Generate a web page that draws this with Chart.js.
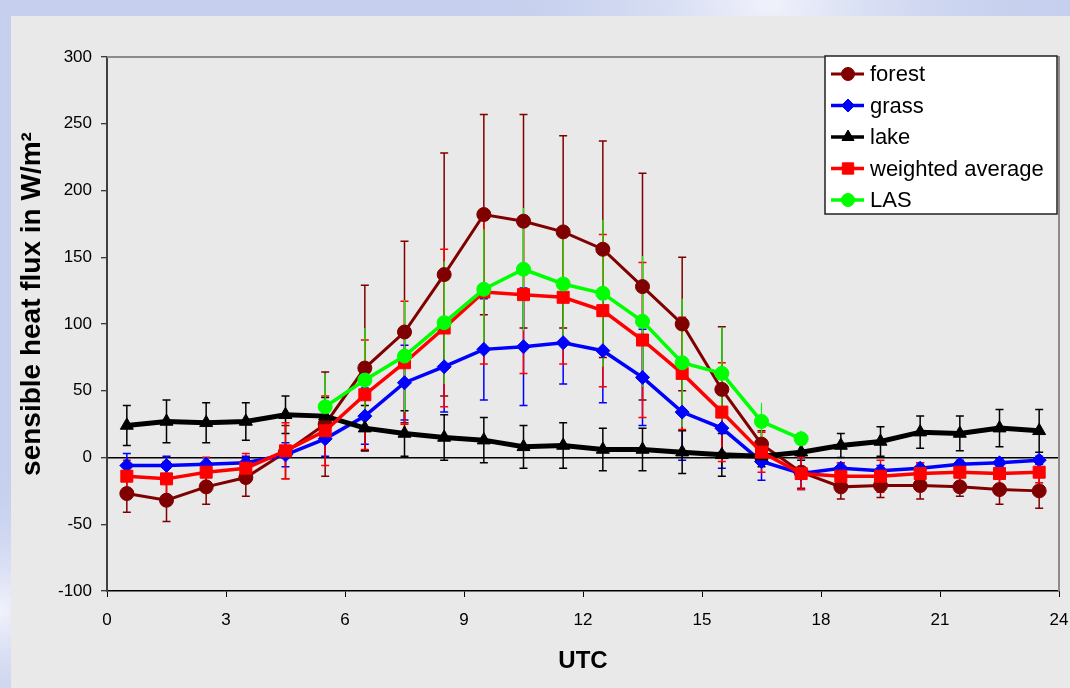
<!DOCTYPE html>
<html>
<head>
<meta charset="utf-8">
<script src="https://cdn.jsdelivr.net/npm/chart.js@4.4.1/dist/chart.umd.min.js"></script>
<style>
  html, body { margin: 0; padding: 0; background: #c6d0ee; }
  canvas { display: block; }
</style>
</head>
<body>
<canvas id="fluxChart" width="1070" height="688"></canvas>
<script>
// half-hourly means of sensible heat flux (W/m²) over the day
const hours = [0.5, 1.5, 2.5, 3.5, 4.5, 5.5, 6.5, 7.5, 8.5, 9.5, 10.5, 11.5,
               12.5, 13.5, 14.5, 15.5, 16.5, 17.5, 18.5, 19.5, 20.5, 21.5, 22.5, 23.5];

const forest = [-27, -32, -22, -15, 4, 25, 67, 94, 137, 182, 177, 169,
                156, 128, 100, 51, 10, -11, -22, -21, -21, -22, -24, -25];
const forestErr = [14, 16, 13, 14, 20, 39, 62, 68, 91, 75, 80, 72,
                   81, 85, 50, 47, 10, 12, 9, 9, 10, 7, 11, 13];

const grass = [-6, -6, -5, -4, 2, 14, 31, 56, 68, 81, 83, 86,
               80, 60, 34, 22, -3, -12, -8, -10, -8, -5, -4, -2];
const grassErr = [9, 7, 5, 5, 9, 13, 21, 28, 34, 38, 44, 31,
                  39, 36, 36, 30, 14, 12, 4, 4, 4, 3, 3, 3];

const lake = [24, 27, 26, 27, 32, 31, 22, 18, 15, 13, 8, 9,
              6, 6, 4, 2, 1, 4, 9, 12, 19, 18, 22, 20];
const lakeErr = [15, 16, 15, 14, 14, 14, 17, 17, 17, 17, 16, 17,
                 16, 16, 16, 16, 8, 6, 9, 11, 12, 13, 14, 16];

const weighted = [-14, -16, -11, -8, 5, 20, 47, 71, 97, 124, 122, 120,
                  110, 88, 63, 34, 4, -12, -14, -14, -12, -11, -12, -11];
const weightedErr = [12, 13, 11, 11, 21, 26, 41, 46, 59, 54, 59, 50,
                     57, 58, 42, 37, 15, 12, 10, 12, 8, 8, 8, 8];

const las = [null, null, null, null, null, 38, 58, 76, 101, 126, 141, 130,
             123, 102, 71, 63, 27, 14, null, null, null, null, null, null];
const lasErr = [null, null, null, null, null, 25, 39, 42, 46, 45, 46, 39,
                55, 49, 48, 35, 14, 6, null, null, null, null, null, null];

const xTicks = [0, 3, 6, 9, 12, 15, 18, 21, 24];
const yTicks = [-100, -50, 0, 50, 100, 150, 200, 250, 300];

const yTitle = 'sensible heat flux in W/m²';

const tickFont = { family: "'Liberation Sans Narrow', 'Liberation Sans', Arial, sans-serif", size: 17 };

function toPoints(values) {
    const pts = [];
    values.forEach((v, i) => {
        if (v !== null) pts.push({ x: hours[i], y: v });
    });
    return pts;
}

function series(label, values, errors, color, style, radius, width, order, opts) {
    return Object.assign({
        label: label,
        data: toPoints(values),
        errors: errors.filter(e => e !== null),
        errorColor: color,
        errorWidth: 1.5,
        errorCap: 4,
        borderColor: color,
        backgroundColor: color,
        borderWidth: width,
        pointStyle: style,
        pointRadius: radius,
        pointBackgroundColor: color,
        pointBorderColor: color,
        pointBorderWidth: 1,
        tension: 0,
        order: order
    }, opts || {});
}

// window background, grey panel and the rotated value-axis title
const backdrop = {
    id: 'backdrop',
    beforeDraw(chart) {
        const ctx = chart.ctx;
        const w = chart.width, h = chart.height;
        ctx.save();
        ctx.fillStyle = '#c6d0ee';
        ctx.fillRect(0, 0, w, h);
        let g = ctx.createRadialGradient(770, 0, 10, 770, 0, 300);
        g.addColorStop(0, '#eef0fa');
        g.addColorStop(1, 'rgba(198,208,238,0)');
        ctx.fillStyle = g;
        ctx.fillRect(0, 0, w, 16);
        g = ctx.createRadialGradient(0, 610, 5, 0, 610, 140);
        g.addColorStop(0, '#eef0fa');
        g.addColorStop(1, 'rgba(198,208,238,0)');
        ctx.fillStyle = g;
        ctx.fillRect(0, 0, 11, h);
        ctx.fillStyle = '#e9e9e9';
        ctx.fillRect(11, 16, w - 11, h - 16);

        ctx.translate(32, 304);
        ctx.rotate(-Math.PI / 2);
        ctx.fillStyle = '#000';
        ctx.font = "bold 28px 'Liberation Sans', Arial, sans-serif";
        ctx.textAlign = 'center';
        ctx.textBaseline = 'middle';
        ctx.fillText(yTitle, 0, 0);
        ctx.restore();
    }
};

// plot-area frame and vertical error bars
const errorBars = {
    id: 'errorBars',
    beforeDatasetsDraw(chart) {
        const { ctx, chartArea: a, scales: { x, y } } = chart;
        ctx.save();
        ctx.strokeStyle = '#8c8c8c';
        ctx.lineWidth = 2;
        ctx.beginPath();
        ctx.moveTo(a.left, a.top);
        ctx.lineTo(a.right, a.top);
        ctx.lineTo(a.right, a.bottom);
        ctx.stroke();

        const metas = chart.getSortedVisibleDatasetMetas().slice().reverse();
        metas.forEach(meta => {
            const ds = chart.data.datasets[meta.index];
            ctx.strokeStyle = ds.errorColor;
            ctx.lineWidth = ds.errorWidth;
            ds.data.forEach((p, j) => {
                const err = ds.errors[j];
                if (!err) return;
                const px = x.getPixelForValue(p.x);
                const top = y.getPixelForValue(p.y + err);
                const bot = y.getPixelForValue(p.y - err);
                ctx.beginPath();
                ctx.moveTo(px, top);
                ctx.lineTo(px, bot);
                if (ds.errorCap > 0) {
                    ctx.moveTo(px - ds.errorCap, top);
                    ctx.lineTo(px + ds.errorCap, top);
                    ctx.moveTo(px - ds.errorCap, bot);
                    ctx.lineTo(px + ds.errorCap, bot);
                }
                ctx.stroke();
            });
        });
        ctx.restore();
    }
};

// boxed legend with line + marker samples
const boxLegend = {
    id: 'boxLegend',
    afterDraw(chart) {
        const ctx = chart.ctx;
        const box = { x: 825, y: 56, w: 232, h: 158 };
        ctx.save();
        ctx.fillStyle = '#ffffff';
        ctx.fillRect(box.x, box.y, box.w, box.h);
        ctx.strokeStyle = '#222222';
        ctx.lineWidth = 1.5;
        ctx.strokeRect(box.x, box.y, box.w, box.h);

        ctx.font = "22px 'Liberation Sans', Arial, sans-serif";
        ctx.textBaseline = 'middle';
        chart.data.datasets.forEach((ds, i) => {
            const cy = 74 + i * 31.5;
            ctx.strokeStyle = ds.borderColor;
            ctx.lineWidth = Math.min(ds.borderWidth, 3.5);
            ctx.beginPath();
            ctx.moveTo(831, cy);
            ctx.lineTo(864, cy);
            ctx.stroke();
            ctx.fillStyle = ds.pointBackgroundColor;
            ctx.strokeStyle = ds.pointBorderColor;
            ctx.lineWidth = 1;
            Chart.helpers.drawPoint(ctx, {
                pointStyle: ds.pointStyle,
                radius: ds.pointRadius - 0.5,
                rotation: 0,
                borderWidth: 1
            }, 848, cy);
            ctx.fillStyle = '#000000';
            ctx.fillText(ds.label, 870, cy + 1);
        });
        ctx.restore();
    }
};

const ctx = document.getElementById('fluxChart').getContext('2d');
new Chart(ctx, {
    type: 'line',
    data: {
        datasets: [
            series('forest', forest, forestErr, '#800000', 'circle', 7, 3, 5),
            series('grass', grass, grassErr, '#0000ff', 'rectRot', 7, 3.5, 4),
            series('lake', lake, lakeErr, '#000000', 'triangle', 7.5, 5, 3),
            series('weighted average', weighted, weightedErr, '#ff0000', 'rect', 8.5, 3.5, 2),
            series('LAS', las, lasErr, '#00ff00', 'circle', 7, 3.5, 1, { errorCap: 0, errorWidth: 1.2 })
        ]
    },
    options: {
        responsive: false,
        animation: false,
        devicePixelRatio: 1,
        layout: { padding: { top: 57, right: 11, bottom: 0, left: 0 } },
        plugins: {
            legend: { display: false },
            tooltip: { enabled: false }
        },
        scales: {
            x: {
                type: 'linear',
                min: 0,
                max: 24,
                afterFit: (scale) => {
                    scale.height = 97;
                    scale.paddingLeft = 0;
                    scale.paddingRight = 0;
                },
                afterBuildTicks: (scale) => { scale.ticks = xTicks.map(v => ({ value: v })); },
                ticks: { font: tickFont, color: '#000', padding: 13 },
                grid: { drawOnChartArea: false, tickLength: 6, color: '#000', tickWidth: 1 },
                border: { color: '#000', width: 1.5 },
                title: {
                    display: true,
                    text: 'UTC',
                    color: '#000',
                    font: { family: "'Liberation Sans', Arial, sans-serif", size: 24, weight: 'bold' },
                    padding: { top: 0, bottom: 12 }
                }
            },
            y: {
                type: 'linear',
                min: -100,
                max: 300,
                afterFit: (scale) => {
                    scale.width = 107;
                    scale.paddingTop = 0;
                    scale.paddingBottom = 0;
                },
                afterBuildTicks: (scale) => { scale.ticks = yTicks.map(v => ({ value: v })); },
                ticks: { font: tickFont, color: '#000', padding: 9 },
                grid: {
                    color: (c) => (c.tick && c.tick.value === 0 ? '#000' : 'rgba(0,0,0,0)'),
                    lineWidth: 1.5,
                    tickColor: '#000',
                    tickLength: 6,
                    tickWidth: 1
                },
                border: { color: '#404040', width: 2 }
            }
        }
    },
    plugins: [backdrop, errorBars, boxLegend]
});
</script>
</body>
</html>
